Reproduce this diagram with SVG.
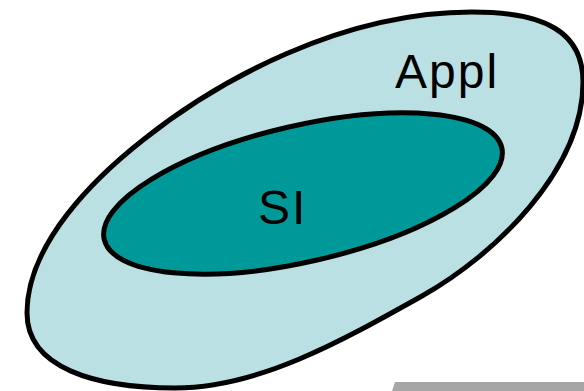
<svg xmlns="http://www.w3.org/2000/svg" width="584" height="391" viewBox="0 0 584 391">
  <style>
    .outline { stroke: #000000; stroke-width: 5; }
    .label { font-family: "Liberation Sans", Arial, sans-serif; font-size: 48px; fill: #000000; letter-spacing: 2px; }
  </style>
  <rect x="0" y="0" width="584" height="391" fill="#ffffff"/>
  <polygon points="395,382 584,382 584,391 392,391" fill="#a6a6a6"/>
  <g id="appl">
    <path class="outline" fill="#bae0e3" d="M 472,12 C 545,12 583,32 583,82 C 583,170 495,255 422,296 C 340,342 258,388 175,388 C 95,388 27,368 27,313 C 27,243 96,177 143,140 C 218,80 342,12 472,12 Z"/>
    <text class="label" x="395" y="88">Appl</text>
  </g>
  <g id="si">
    <ellipse class="outline" fill="#009999" cx="303" cy="193.5" rx="204" ry="68" transform="rotate(-13 303 193.5)"/>
    <text class="label" x="258" y="224">SI</text>
  </g>
  <g id="connectors"/>
</svg>
